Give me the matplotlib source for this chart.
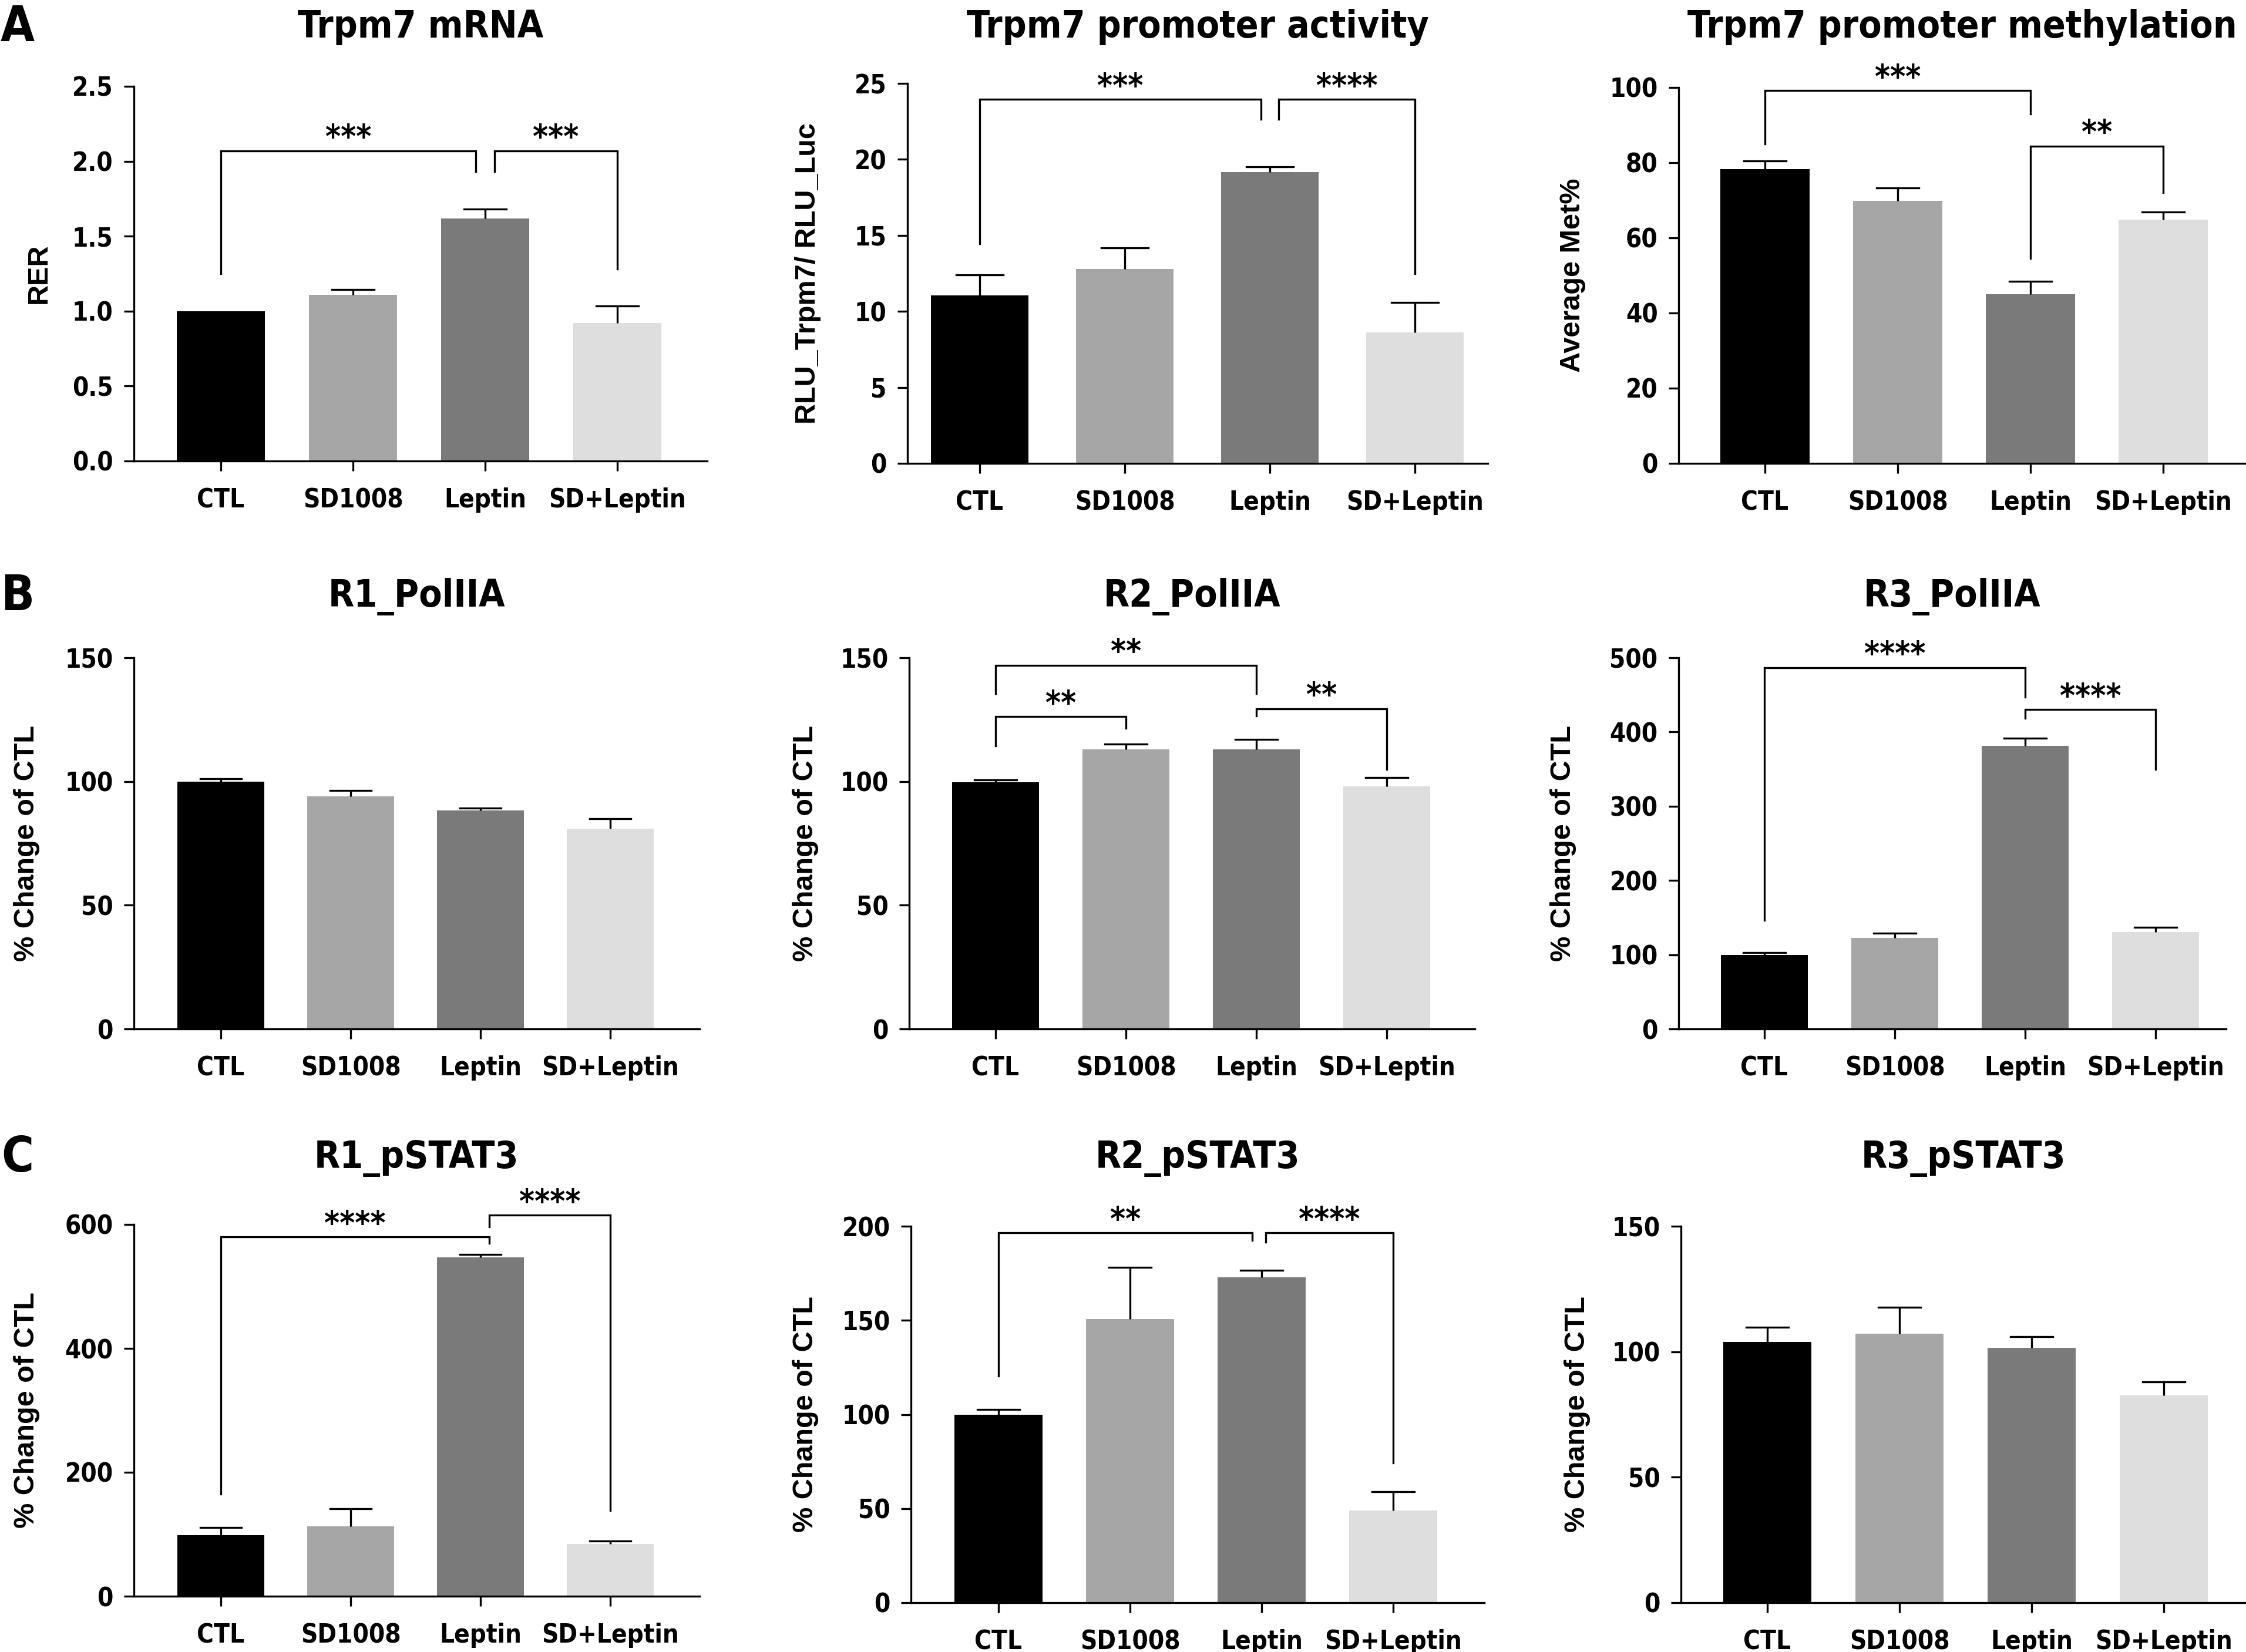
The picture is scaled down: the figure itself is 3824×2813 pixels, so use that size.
import matplotlib
matplotlib.use('Agg')
import matplotlib.pyplot as plt
from matplotlib import font_manager

W, H = 3824, 2813

grupos = ['CTL', 'SD1008', 'Leptin', 'SD+Leptin']
cores = ['#000000', '#a6a6a6', '#7a7a7a', '#dedede']

# valores (média e erro superior)
mrna = [1.0, 1.11, 1.62, 0.92]
mrna_err = [0.0, 0.035, 0.06, 0.115]
promotor = [11.06, 12.8, 19.15, 8.6]
promotor_err = [1.33, 1.37, 0.35, 2.0]
metil = [78.3, 69.8, 45.0, 64.9]
metil_err = [2.2, 3.5, 3.4, 2.0]
r1_pol = [99.9, 94.1, 88.2, 80.9]
r1_pol_err = [1.2, 2.3, 1.1, 4.1]
r2_pol = [99.8, 112.9, 112.9, 98.1]
r2_pol_err = [0.9, 2.1, 4.1, 3.4]
r3_pol = [99.5, 122.5, 381.1, 130.2]
r3_pol_err = [3.1, 6.8, 10.4, 6.8]
r1_stat = [98.8, 112.6, 546.9, 83.9]
r1_stat_err = [12.1, 28.7, 4.4, 5.5]
r2_stat = [99.7, 150.7, 172.7, 49.1]
r2_stat_err = [2.8, 27.5, 4.0, 10.0]
r3_stat = [103.9, 107.2, 101.6, 82.5]
r3_stat_err = [5.9, 10.6, 4.3, 5.4]

# comparações: (i, j, altura, perna_i, perna_j, texto, desloc_i, desloc_j)
comp_mrna = [(0, 2, 2.07, 1.25, 1.93, '***', 0, -0.07), (2, 3, 2.07, 1.93, 1.28, '***', 0.07, 0)]
comp_promotor = [(0, 2, 23.94, 14.44, 22.66, '***', 0, -0.06), (2, 3, 23.94, 22.66, 12.5, '****', 0.06, 0)]
comp_metil = [(0, 2, 99.2, 85.0, 92.9, '***', 0, 0), (2, 3, 84.4, 54.5, 72.1, '**', 0, 0)]
comp_r2_pol = [(0, 2, 147, 135.5, 135.5, '**', 0, 0), (0, 1, 126.2, 114.4, 121.5, '**', 0, 0),
               (2, 3, 129.4, 126.6, 104.9, '**', 0, 0)]
comp_r3_pol = [(0, 2, 486.9, 146, 447, '****', 0, 0), (2, 3, 430, 418.6, 349.5, '****', 0, 0)]
comp_r1_stat = [(0, 2, 580, 164.5, 570, '****', 0, 0.07), (2, 3, 615, 596.6, 138.5, '****', 0.07, 0)]
comp_r2_stat = [(0, 2, 196.5, 120.3, 192.4, '**', 0, -0.07), (2, 3, 196.5, 191.7, 74.4, '****', 0.03, 0)]

# (titulo, ylabel, valores, erros, yticks, formato, comparações,
#  esq, primeiro tick, passo, dir, y0, ytopo, x do ylabel) em pixels
paineis = [
    ('Trpm7 mRNA', 'RER', mrna, mrna_err, [0, 0.5, 1.0, 1.5, 2.0, 2.5], '{:.1f}', comp_mrna,
     228, 376, 225, 1204, 785, 147, 66),
    ('Trpm7 promoter activity', 'RLU_Trpm7/ RLU_Luc', promotor, promotor_err, [0, 5, 10, 15, 20, 25], '{:.0f}',
     comp_promotor, 1545, 1668, 247, 2533, 789, 142, 1376),
    ('Trpm7 promoter methylation', 'Average Met%', metil, metil_err, [0, 20, 40, 60, 80, 100], '{:.0f}',
     comp_metil, 2858, 3005, 226, 3824, 789, 149, 2678),
    ('R1_PolIIA', '% Change of CTL', r1_pol, r1_pol_err, [0, 50, 100, 150], '{:.0f}', [],
     228, 376, 221, 1191, 1752, 1120, 46),
    ('R2_PolIIA', '% Change of CTL', r2_pol, r2_pol_err, [0, 50, 100, 150], '{:.0f}', comp_r2_pol,
     1548, 1695, 222, 2511, 1752, 1120, 1372),
    ('R3_PolIIA', '% Change of CTL', r3_pol, r3_pol_err, [0, 100, 200, 300, 400, 500], '{:.0f}', comp_r3_pol,
     2858, 3004, 222, 3790, 1752, 1120, 2661),
    ('R1_pSTAT3', '% Change of CTL', r1_stat, r1_stat_err, [0, 200, 400, 600], '{:.0f}', comp_r1_stat,
     228, 376, 221, 1191, 2718, 2085, 46),
    ('R2_pSTAT3', '% Change of CTL', r2_stat, r2_stat_err, [0, 50, 100, 150, 200], '{:.0f}', comp_r2_stat,
     1551, 1700, 224, 2527, 2729, 2088, 1372),
    ('R3_pSTAT3', '% Change of CTL', r3_stat, r3_stat_err, [0, 50, 100, 150], '{:.0f}', [],
     2862, 3009, 225, 3824, 2729, 2088, 2685),
]

titulos_y = [46, 1016, 1972]
letras = ['A', 'B', 'C']

LW = 2.4


def achar_fonte(candidatos, familia, **kw):
    """Procura um arquivo de fonte pelo nome; senão usa a família"""
    arquivos = [f.fname for f in font_manager.fontManager.ttflist]
    for c in candidatos:
        for a in arquivos:
            if a.endswith(c):
                return lambda tam: font_manager.FontProperties(fname=a, size=tam)
    return lambda tam: font_manager.FontProperties(family=familia, size=tam, **kw)


fonte_c = achar_fonte(['LiberationSansNarrow-Bold.ttf', 'DejaVuSansCondensed-Bold.ttf'],
                      'DejaVu Sans', weight='bold', stretch='condensed')
fonte = achar_fonte(['LiberationSans-Bold.ttf', 'Arial_Bold.ttf'], 'DejaVu Sans', weight='bold')


def desenhar(fig, p):
    (titulo, ylabel, vals, errs, yticks, fmt, comps,
     esq, t0, passo, dire, y0, ytop, xlab) = p
    ax = fig.add_axes([esq / W, 1 - y0 / H, (dire - esq) / W, (y0 - ytop) / H])
    x = list(range(len(grupos)))
    ax.bar(x, vals, width=0.67, color=cores, zorder=2)
    # barras de erro só para cima
    for xi, v, e in zip(x, vals, errs):
        if e > 0:
            ax.plot([xi, xi], [v, v + e], color='black', lw=LW, solid_capstyle='butt', zorder=3)
            ax.plot([xi - 0.16, xi + 0.16], [v + e, v + e], color='black', lw=LW, zorder=3)
    ax.set_xlim((esq - t0) / passo, (dire - t0) / passo)
    ax.set_ylim(yticks[0], yticks[-1])
    ax.set_yticks(yticks)
    ax.set_yticklabels([fmt.format(t) for t in yticks])
    ax.set_xticks(x)
    ax.set_xticklabels(grupos)
    for s in ['top', 'right']:
        ax.spines[s].set_visible(False)
    for s in ['left', 'bottom']:
        ax.spines[s].set_linewidth(LW)
    ax.tick_params(axis='both', length=12.5, width=LW)
    ax.tick_params(axis='y', pad=13)
    ax.tick_params(axis='x', pad=20)
    for lab in ax.get_xticklabels() + ax.get_yticklabels():
        lab.set_fontproperties(fonte_c(31.5))
    # colchetes de significância
    for (i, j, yb, yi, yj, txt, di, dj) in comps:
        xi, xj = i + di, j + dj
        ax.plot([xi, xi, xj, xj], [yi, yb, yb, yj], color='black', lw=2.4,
                clip_on=False, zorder=4, solid_joinstyle='miter')
        ax.annotate(txt, ((xi + xj) / 2, yb), xytext=(0, 4), textcoords='offset points',
                    ha='center', va='baseline', fontproperties=fonte_c(40),
                    annotation_clip=False)
    fig.text(xlab / W, 1 - (y0 + ytop) / 2 / H, ylabel, rotation=90, ha='center', va='center',
             fontproperties=fonte(35))
    return ax


def main():
    fig = plt.figure(figsize=(W / 100, H / 100), dpi=100)
    for k, p in enumerate(paineis):
        desenhar(fig, p)
        centro = (p[7] + p[10]) / 2
        fig.text(centro / W, 1 - titulos_y[k // 3] / H, p[0], ha='center', va='center',
                 fontproperties=fonte_c(46))
    for k, l in enumerate(letras):
        fig.text(30 / W, 1 - titulos_y[k] / H, l, ha='center', va='center',
                 fontproperties=fonte_c(60))
    fig.savefig('out.png', dpi=100)


if __name__ == '__main__':
    main()
